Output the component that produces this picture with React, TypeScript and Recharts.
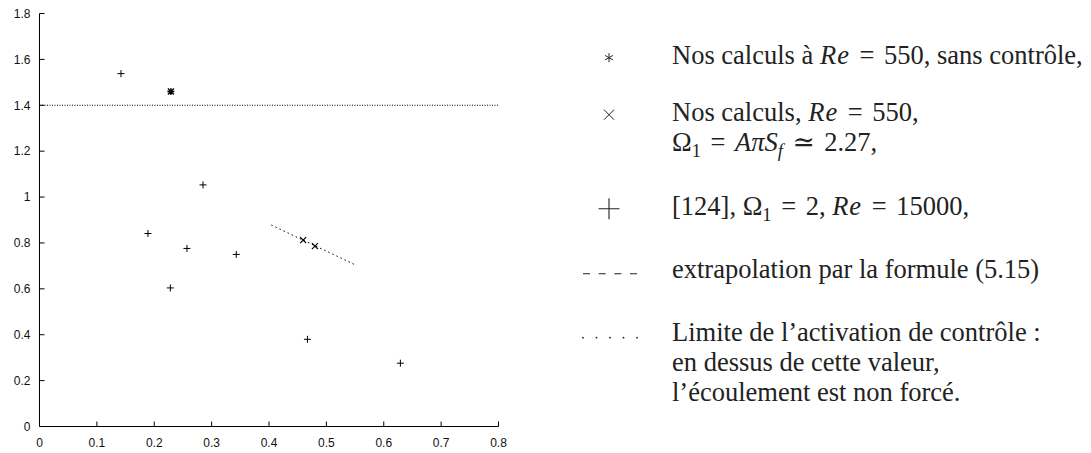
import React from 'react'
import { ScatterChart, Scatter, XAxis, YAxis, ReferenceLine } from 'recharts'

const xTicks = [0, 0.1, 0.2, 0.3, 0.4, 0.5, 0.6, 0.7, 0.8]
const yTicks = [0, 0.2, 0.4, 0.6, 0.8, 1, 1.2, 1.4, 1.6, 1.8]

// [124], Omega_1 = 2, Re = 15000
const refX = [0.142, 0.189, 0.228, 0.257, 0.285, 0.343, 0.467, 0.629]
const refY = [1.538, 0.841, 0.604, 0.776, 1.053, 0.75, 0.38, 0.276]

// nos calculs Re = 550 sans controle
const noCtrlX = [0.229]
const noCtrlY = [1.46]

// nos calculs Re = 550, Omega_1 = 2.27
const ctrlX = [0.4595, 0.48]
const ctrlY = [0.812, 0.786]

// extrapolation (5.15)
const extrapX = [0.404, 0.55]
const extrapY = [0.878, 0.705]

// limite de l'activation
const limitY = 1.4

const toPoints = (xs: number[], ys: number[]) => xs.map((x, i) => ({ x, y: ys[i] }))

const sans = 'Liberation Sans, Arial, sans-serif'
const serif = 'Liberation Serif, Times New Roman, DejaVu Serif, serif'
const ink = '#222'

const Sub = ({ children }: { children: React.ReactNode }) => (
	<span style={{ fontSize: '0.7em', verticalAlign: '-0.3em', lineHeight: 0 }}>{children}</span>
)
const Re = () => <i style={{ letterSpacing: '0.04em' }}>Re</i>
const Rel = ({ s }: { s: string }) => <span style={{ margin: '0 0.36em' }}>{s}</span>

const legendLabels: React.ReactNode[][] = [
	[<>Nos calculs à <Re /><Rel s='=' />550, sans contrôle,</>],
	[
		<>Nos calculs, <Re /><Rel s='=' />550,</>,
		<>Ω<Sub>1</Sub><Rel s='=' /><i>Aπ</i><i>S</i><Sub><i>f</i></Sub><Rel s='≃' />2.27,</>,
	],
	[<>[124], Ω<Sub>1</Sub><Rel s='=' />2, <Re /><Rel s='=' />15000,</>],
	[<>extrapolation par la formule (5.15)</>],
	[
		<>Limite de l’activation de contrôle :</>,
		<>en dessus de cette valeur,</>,
		<>l’écoulement est non forcé.</>,
	],
]
const rowTops = [40, 97, 191, 254, 317]
const rowCenter = 17.7

// legend keys, drawn like the plot markers (centred at 0,0)
const keyStar = (
	<g stroke={ink} strokeWidth={1} fill='none'>
		<path d='M0,-4.5V4.5M-3.9,-2.25L3.9,2.25M-3.9,2.25L3.9,-2.25' />
	</g>
)
const keyCross = <path d='M-5,-5L5,5M-5,5L5,-5' stroke={ink} strokeWidth={1} fill='none' />
const keyPlus = <path d='M-10.5,0H10.5M0,-10.5V10.5' stroke={ink} strokeWidth={1.1} fill='none' />
const keyDash = <line x1={-26} x2={28} y1={2} y2={2} stroke={ink} strokeWidth={1.1} strokeDasharray='7 8.67' />
const keyDots = (
	<g fill={ink}>
		{[0, 1, 2, 3, 4].map((k) => (
			<circle key={k} cx={-26 + k * 13.5} cy={3} r={0.9} />
		))}
	</g>
)
const legendKeys = [keyStar, keyCross, keyPlus, keyDash, keyDots]

const Plus = (p: any) => {
	const { cx, cy } = p
	return <path d={`M${cx - 3.5},${cy}H${cx + 3.5}M${cx},${cy - 3.5}V${cy + 3.5}`} stroke='#000' strokeWidth={1} fill='none' />
}
const Cross = (p: any) => {
	const { cx, cy } = p
	return <path d={`M${cx - 3},${cy - 3}L${cx + 3},${cy + 3}M${cx - 3},${cy + 3}L${cx + 3},${cy - 3}`} stroke='#000' strokeWidth={1.2} fill='none' />
}
const Star = (p: any) => {
	const { cx, cy } = p
	return (
		<path
			d={`M${cx - 3.5},${cy}H${cx + 3.5}M${cx},${cy - 3.5}V${cy + 3.5}M${cx - 3},${cy - 3}L${cx + 3},${cy + 3}M${cx - 3},${cy + 3}L${cx + 3},${cy - 3}`}
			stroke='#000'
			strokeWidth={1.3}
			fill='none'
		/>
	)
}

export default function App() {
	const tickStyle = { fontSize: 12, fill: '#111', fontFamily: sans }
	return (
		<div style={{ position: 'absolute', left: 0, top: 0, width: 1091, height: 453, background: '#fff' }}>
			<ScatterChart width={1091} height={453} margin={{ top: 13.5, right: 592.5, bottom: 6.5, left: 0 }}>
				<XAxis
					type='number'
					dataKey='x'
					domain={[0, 0.8]}
					ticks={xTicks}
					interval={0}
					height={20}
					tickSize={-5}
					tickMargin={17}
					stroke='#000'
					tick={tickStyle}
					allowDataOverflow
				/>
				<XAxis xAxisId='top' orientation='top' type='number' domain={[0, 0.8]} ticks={xTicks} interval={0} height={0} tickSize={-5} tick={false} stroke='#000' allowDataOverflow />
				<YAxis
					type='number'
					dataKey='y'
					domain={[0, 1.8]}
					ticks={yTicks}
					interval={0}
					width={39.5}
					tickSize={-5}
					tickMargin={14}
					stroke='#000'
					tick={tickStyle}
					allowDataOverflow
				/>
				<YAxis yAxisId='right' orientation='right' type='number' domain={[0, 1.8]} ticks={yTicks} interval={0} width={0} tickSize={-5} tick={false} stroke='#000' allowDataOverflow />

				<ReferenceLine y={limitY} stroke='#000' strokeWidth={1} strokeDasharray='1 1.5' />
				<ReferenceLine
					segment={[
						{ x: extrapX[0], y: extrapY[0] },
						{ x: extrapX[1], y: extrapY[1] },
					]}
					stroke='#000'
					strokeWidth={1}
					strokeDasharray='1.5 3'
				/>

				<Scatter data={toPoints(refX, refY)} shape={Plus} isAnimationActive={false} />
				<Scatter data={toPoints(noCtrlX, noCtrlY)} shape={Star} isAnimationActive={false} />
				<Scatter data={toPoints(ctrlX, ctrlY)} shape={Cross} isAnimationActive={false} />
			</ScatterChart>

			{/* legend */}
			{legendLabels.map((lines, i) => (
				<div key={i} style={{ position: 'absolute', left: 0, top: rowTops[i], fontFamily: serif, fontSize: 26.5, lineHeight: '30px', color: ink }}>
					<svg width={80} height={30} style={{ position: 'absolute', left: 569, top: 0, overflow: 'visible' }}>
						<g transform={`translate(40, ${rowCenter})`}>{legendKeys[i]}</g>
					</svg>
					{lines.map((line, j) => (
						<div key={j} style={{ position: 'absolute', left: 672, top: j * 30, whiteSpace: 'nowrap' }}>
							{line}
						</div>
					))}
				</div>
			))}
		</div>
	)
}
